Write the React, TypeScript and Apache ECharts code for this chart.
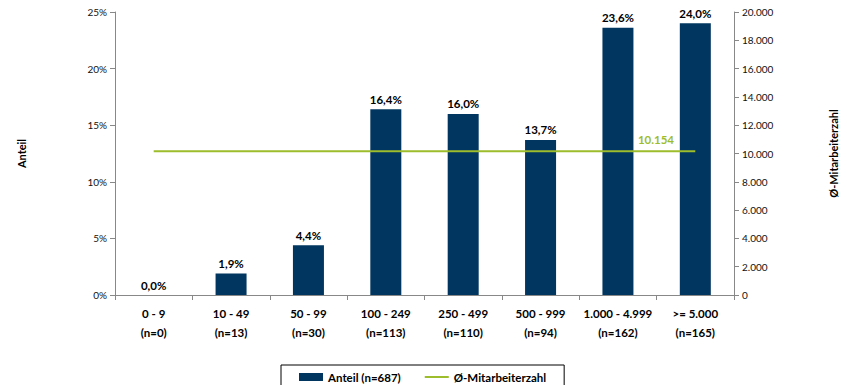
import React, { useEffect, useRef } from "react";
import * as echarts from "echarts";

const categories = ["0 - 9", "10 - 49", "50 - 99", "100 - 249", "250 - 499", "500 - 999", "1.000 - 4.999", ">= 5.000"];
const counts = [0, 13, 30, 113, 110, 94, 162, 165];
const shares = [0.0, 1.9, 4.4, 16.4, 16.0, 13.7, 23.6, 24.0];
const avgEmployees = [10154, 10154, 10154, 10154, 10154, 10154, 10154, 10154];
const leftTicks = [0, 5, 10, 15, 20, 25];
const rightTicks = [0, 2000, 4000, 6000, 8000, 10000, 12000, 14000, 16000, 18000, 20000];

const NAVY = "#00365f";
const GREEN = "#9dbd2c";
const FONT = "Lato, 'Open Sans', sans-serif";

const fmtThousands = (v: number) => String(Math.round(v)).replace(/\B(?=(\d{3})+(?!\d))/g, ".");

export default function App() {
  const ref = useRef<HTMLDivElement>(null);
  useEffect(() => {
    if (!ref.current) return;
    const chart = echarts.init(ref.current, null, { renderer: "svg" });
    chart.setOption({
      animation: false,
      textStyle: { fontFamily: FONT },
      grid: { left: 115, right: 110, top: 12, bottom: 90 },
      legend: {
        bottom: -6,
        left: 281,
        width: 294,
        padding: [6, 18, 8, 18],
        borderColor: "#000",
        borderWidth: 1,
        itemGap: 24,
        itemWidth: 24,
        itemHeight: 8,
        textStyle: { fontFamily: FONT, fontWeight: "bold", fontSize: 11.5, color: "#000" },
        data: [
          { name: "Anteil (n=687)", icon: "rect" },
          { name: "Ø-Mitarbeiterzahl", icon: "path://M0,0H24V2H0Z", itemStyle: { color: GREEN } },
        ],
      },
      xAxis: {
        type: "category",
        data: categories.map((c, i) => c + "\n(n=" + counts[i] + ")"),
        axisLine: { lineStyle: { color: "#888" } },
        axisTick: { show: true, alignWithLabel: false, length: 5, lineStyle: { color: "#888" } },
        axisLabel: {
          interval: 0,
          margin: 9,
          fontFamily: FONT,
          fontWeight: "bold",
          fontSize: 11.5,
          lineHeight: 19,
          color: "#000",
        },
      },
      yAxis: [
        {
          type: "value",
          min: leftTicks[0],
          max: leftTicks[leftTicks.length - 1],
          interval: 5,
          name: "Anteil",
          nameLocation: "middle",
          nameRotate: 90,
          nameGap: 88,
          nameTextStyle: { fontFamily: FONT, fontWeight: "bold", fontSize: 11, color: "#000" },
          axisLine: { show: true, lineStyle: { color: "#888" } },
          axisTick: { show: true, length: 5, lineStyle: { color: "#888" } },
          splitLine: { show: false },
          axisLabel: { formatter: (v: number) => v + "%", fontSize: 10, color: "#111", fontFamily: FONT, margin: 8 },
        },
        {
          type: "value",
          min: rightTicks[0],
          max: rightTicks[rightTicks.length - 1],
          interval: 2000,
          name: "Ø-Mitarbeiterzahl",
          nameLocation: "middle",
          nameRotate: 90,
          nameGap: 94,
          nameTextStyle: { fontFamily: FONT, fontWeight: "bold", fontSize: 11, color: "#000" },
          axisLine: { show: true, lineStyle: { color: "#888" } },
          axisTick: { show: true, length: 5, lineStyle: { color: "#888" } },
          splitLine: { show: false },
          axisLabel: { formatter: fmtThousands, fontSize: 10, color: "#111", fontFamily: FONT, margin: 8 },
        },
      ],
      series: [
        {
          name: "Anteil (n=687)",
          type: "bar",
          yAxisIndex: 0,
          data: shares,
          barWidth: 31,
          itemStyle: { color: NAVY },
          label: {
            show: true,
            position: "top",
            distance: 4,
            formatter: (p: any) => p.value.toFixed(1).replace(".", ",") + "%",
            fontFamily: FONT,
            fontWeight: "bold",
            fontSize: 11.5,
            color: "#000",
          },
        },
        {
          name: "Ø-Mitarbeiterzahl",
          type: "line",
          yAxisIndex: 1,
          data: avgEmployees,
          symbol: "none",
          lineStyle: { color: GREEN, width: 2 },
          itemStyle: { color: GREEN },
          z: 5,
          markPoint: {
            symbol: "circle",
            symbolSize: 0,
            data: [{ coord: [6, avgEmployees[6]], value: avgEmployees[6] }],
            label: {
              show: true,
              position: "top",
              distance: 6,
              offset: [38, 0],
              formatter: (p: any) => fmtThousands(p.value),
              color: GREEN,
              fontFamily: FONT,
              fontWeight: "bold",
              fontSize: 11.5,
            },
          },
        },
      ],
    });
    return () => chart.dispose();
  }, []);
  return <div ref={ref} style={{ width: 847, height: 385, position: "absolute", left: 0, top: 0 }} />;
}
